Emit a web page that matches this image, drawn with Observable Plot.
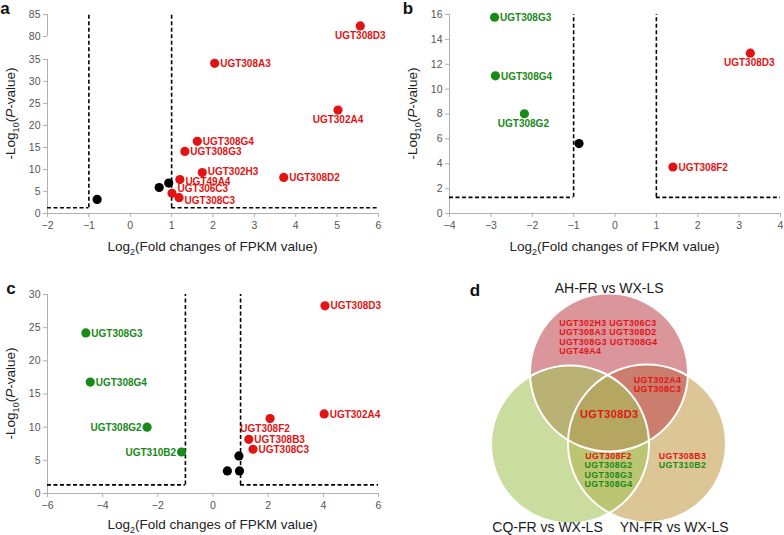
<!DOCTYPE html>
<html><head><meta charset="utf-8">
<script src="https://cdn.jsdelivr.net/npm/d3@7"></script>
<script src="https://cdn.jsdelivr.net/npm/@observablehq/plot@0.6"></script>
<style>
body{margin:0;background:#fff;}
#fig{position:relative;width:784px;height:535px;overflow:hidden;font-family:"Liberation Sans",Arial,sans-serif;background:#fff;}
#fig svg{position:absolute;background:none;}
</style></head><body><div id="fig"></div>
<script>
// ---------- Panel a: AH-FR vs WX-LS ----------
const aGenes  = ["UGT308D3","UGT308A3","UGT302A4","UGT308G4","UGT308G3","UGT302H3","UGT308D2","UGT49A4","UGT306C3","UGT308C3","","",""];
const aLog2FC = [5.56, 2.04, 5.02, 1.62, 1.32, 1.74, 3.71, 1.20, 1.01, 1.18, -0.80, 0.70, 0.93];
const aNegLogP= [82.4, 34.1, 23.5, 16.4, 14.1, 9.3, 8.2, 7.7, 4.6, 3.6, 3.2, 5.9, 6.9];
const aReg    = ["up","up","up","up","up","up","up","up","up","up","ns","ns","ns"];
const aXTicks = [-2,-1,0,1,2,3,4,5,6];
const aYTicks = [0,5,10,15,20,25,30,35,80,85];

// ---------- Panel b: CQ-FR vs WX-LS ----------
const bGenes  = ["UGT308G3","UGT308G4","UGT308G2","","UGT308D3","UGT308F2"];
const bLog2FC = [-2.91, -2.89, -2.19, -0.87, 3.27, 1.40];
const bNegLogP= [15.78, 11.07, 8.02, 5.62, 12.89, 3.74];
const bReg    = ["down","down","down","ns","up","up"];
const bXTicks = [-4,-3,-2,-1,0,1,2,3,4];
const bYTicks = [0,2,4,6,8,10,12,14,16];

// ---------- Panel c: YN-FR vs WX-LS ----------
const cGenes  = ["UGT308D3","UGT308G3","UGT308G4","UGT308G2","UGT310B2","UGT302A4","UGT308F2","UGT308B3","UGT308C3","","",""];
const cLog2FC = [4.06, -4.61, -4.45, -2.39, -1.14, 4.03, 2.07, 1.30, 1.45, 0.94, 0.52, 0.96];
const cNegLogP= [28.3, 24.2, 16.8, 10.0, 6.26, 12.0, 11.3, 8.17, 6.67, 5.66, 3.4, 3.4];
const cReg    = ["up","down","down","down","down","up","up","up","up","ns","ns","ns"];
const cXTicks = [-6,-4,-2,0,2,4,6];
const cYTicks = [0,5,10,15,20,25,30];

// thresholds
const fcCut = 1;
const pCut = 1.3;

// ---------- Panel d: Venn ----------
const vennSets = ["AH-FR vs WX-LS","CQ-FR vs WX-LS","YN-FR vs WX-LS"];
const vennAHonly = ["UGT302H3 UGT306C3","UGT308A3 UGT308D2","UGT308G3 UGT308G4","UGT49A4"];
const vennAH_YN = ["UGT302A4","UGT308C3"];
const vennAll = ["UGT308D3"];
const vennCQ_YN = ["UGT308F2","UGT308G2","UGT308G3","UGT308G4"];
const vennCQ_YNreg = ["up","down","down","down"];
const vennYNonly = ["UGT308B3","UGT310B2"];
const vennYNonlyReg = ["up","down"];

const RED="#e01414", GREEN="#178a17", AXIS="#b0b0b0", TICK="#555555";
const FONT='"Liberation Sans", Arial, sans-serif';
const fig = document.getElementById("fig");

function volcano(o){
  const rows = o.genes.map((g,i)=>({gene:g, fc:o.fc[i], p:o.yMap(o.p[i]), reg:o.reg[i]}));
  const [xmin,xmax] = o.xDomain, ymax = o.yDomain[1];
  const lab = rows.filter(d=>d.gene);
  const isBelow = d=>o.below.includes(d.gene);
  const isLeft = d=>o.left.includes(d.gene);
  const dyOf = d=>(o.dyMap && o.dyMap[d.gene]) || 0.5;
  const txt = {x:"fc", y:"p", text:"gene", fill:"reg", fontWeight:"bold", fontSize:10, fontFamily:FONT};
  const svg = Plot.plot({
    width:o.width, height:o.height,
    marginTop:o.mt, marginBottom:o.mb, marginLeft:o.ml, marginRight:o.mr,
    style:{fontSize:"10.5px", fontFamily:FONT, background:"none", overflow:"visible"},
    x:{domain:o.xDomain, axis:null},
    y:{domain:o.yDomain, axis:null},
    color:{domain:["up","down","ns"], range:[RED,GREEN,"#000"]},
    marks:[
      Plot.ruleY([0], {x1:()=>xmin, x2:()=>xmax, stroke:AXIS, strokeWidth:1}),
      Plot.ruleX(o.ySegs, {x:()=>xmin, y1:d=>d[0], y2:d=>d[1], stroke:AXIS, strokeWidth:1}),
      Plot.axisX({ticks:o.xTicks, tickSize:4, tickPadding:4, stroke:AXIS, fill:TICK, label:null}),
      Plot.axisY({ticks:o.yTicks.map(o.yMap), tickFormat:o.yFmt, tickSize:4, tickPadding:3, stroke:AXIS, fill:TICK, label:null}),
      Plot.ruleX([-fcCut, fcCut], {y1:()=>pCut, y2:()=>ymax, stroke:"#000", strokeWidth:1.6, strokeDasharray:"4,2.5"}),
      Plot.ruleY([[xmin,-fcCut],[fcCut,xmax]], {y:()=>pCut, x1:d=>d[0], x2:d=>d[1], stroke:"#000", strokeWidth:1.6, strokeDasharray:"4,2.5"}),
      Plot.dot(rows, {x:"fc", y:"p", r:4.6, fill:"reg", stroke:null}),
      ...lab.filter(d=>!isBelow(d)&&!isLeft(d)).map(d=>Plot.text([d], {...txt, dx:5.5, dy:dyOf(d), textAnchor:"start"})),
      Plot.text(lab.filter(isLeft), {...txt, dx:-5.5, dy:0.5, textAnchor:"end"}),
      Plot.text(lab.filter(isBelow), {...txt, dx:o.belowDx||0, dy:10, textAnchor:"middle"})
    ]
  });
  svg.style.left = o.left0+"px"; svg.style.top = o.top0+"px";
  fig.appendChild(svg);
  const s = d3.select(svg);
  const cx = o.ml + (o.width-o.ml-o.mr)/2;
  const xt = s.append("text").attr("x",cx).attr("y",o.xTitleY).attr("text-anchor","middle")
    .attr("font-size",13.5).attr("fill","#222").attr("font-family",FONT);
  xt.append("tspan").text("Log");
  xt.append("tspan").attr("dy",3.5).attr("font-size",9).text("2");
  xt.append("tspan").attr("dy",-3.5).text("(Fold changes of FPKM value)");
  const cy = o.mt + (o.height-o.mt-o.mb)/2;
  const yt = s.append("text").attr("transform",`translate(${o.yTitleX},${cy}) rotate(-90)`).attr("text-anchor","middle")
    .attr("font-size",13.5).attr("fill","#222").attr("font-family",FONT);
  yt.append("tspan").text("-Log");
  yt.append("tspan").attr("dy",3.5).attr("font-size",9).text("10");
  yt.append("tspan").attr("dy",-3.5).text("(");
  yt.append("tspan").attr("font-style","italic").text("P");
  yt.append("tspan").text("-value)");
  s.append("text").attr("x",o.letter[0]).attr("y",o.letter[1]).attr("font-size",17).attr("font-weight","bold")
    .attr("fill","#111").attr("font-family",FONT).text(o.letterText);
}

// panel a with broken y axis (80-85 shown above 35)
const aShift = 39.8;
const aMap = v => v>=80 ? v-aShift : v;
volcano({genes:aGenes, fc:aLog2FC, p:aNegLogP, reg:aReg, xDomain:[-2,6], xTicks:aXTicks, yDomain:[0,85-aShift],
  yTicks:aYTicks, yMap:aMap, yFmt:d=>d>=40?Math.round(d+aShift):d, ySegs:[[0,35],[80-aShift,85-aShift]],
  width:392, height:270, mt:14, mb:57, ml:47, mr:14, left0:0, top0:0,
  below:["UGT308D3","UGT302A4"], left:[], dyMap:{"UGT306C3":-4.5,"UGT308C3":3,"UGT49A4":2,"UGT302H3":-0.5},
  xTitleY:251, yTitleX:15, letter:[5,14], letterText:"a"});

volcano({genes:bGenes, fc:bLog2FC, p:bNegLogP, reg:bReg, xDomain:[-4,4], xTicks:bXTicks, yDomain:[0,16],
  yTicks:bYTicks, yMap:d=>d, yFmt:d=>d, ySegs:[[0,16]],
  width:392, height:270, mt:14, mb:57, ml:57, mr:4, left0:392, top0:0,
  below:["UGT308D3","UGT308G2"], belowDx:-1, left:[], xTitleY:251, yTitleX:25, letter:[16,14], letterText:"b"});

volcano({genes:cGenes, fc:cLog2FC, p:cNegLogP, reg:cReg, xDomain:[-6,6], xTicks:cXTicks, yDomain:[0,30],
  yTicks:cYTicks, yMap:d=>d, yFmt:d=>d, ySegs:[[0,30]],
  width:392, height:265, mt:24, mb:42, ml:47, mr:14, left0:0, top0:270,
  below:["UGT308F2"], belowDx:-5, left:["UGT308G2","UGT310B2"], xTitleY:259, yTitleX:15, letter:[11,24], letterText:"c"});

// ---------- Venn ----------
(function(){
  const C = [216.5, 150], R = 79;
  const offs = {"AH-FR vs WX-LS":[0,-48], "CQ-FR vs WX-LS":[-39,24], "YN-FR vs WX-LS":[38,23]};
  const fills = {"AH-FR vs WX-LS":"#c04a53", "CQ-FR vs WX-LS":"#a3c55a", "YN-FR vs WX-LS":"#c59d49"};
  const circles = vennSets.map(s=>({set:s, x:C[0]+offs[s][0], y:C[1]+offs[s][1]}));
  const order = ["YN-FR vs WX-LS","AH-FR vs WX-LS","CQ-FR vs WX-LS"].map(s=>circles.find(c=>c.set===s));
  const lines = (arr, x, y0, step, regs) => arr.map((t,i)=>({t, x, y:y0+i*step, reg:regs?regs[i]:"up"}));
  const top = lines(vennAHonly, 166.7, 52.7, 9.3, null);
  const mid = [
    ...lines(vennAH_YN, 265, 109.5, 9.1, null),
    ...lines(vennCQ_YN, 216, 185.7, 9.4, vennCQ_YNreg),
    ...lines(vennYNonly, 290, 185.7, 9.4, vennYNonlyReg)
  ];
  const titlePos = {"AH-FR vs WX-LS":[216.7,18.5], "CQ-FR vs WX-LS":[155,257], "YN-FR vs WX-LS":[281.7,257]};
  const titles = vennSets.map(s=>({s, x:titlePos[s][0], y:titlePos[s][1]}));
  const svg = Plot.plot({
    width:392, height:265, margin:0,
    style:{fontFamily:FONT, background:"none"},
    x:{domain:[0,392], range:[0,392], axis:null},
    y:{domain:[0,265], range:[0,265], axis:null},
    r:{type:"identity"},
    color:{domain:["up","down"], range:[RED,GREEN]},
    marks:[
      Plot.dot(order, {x:"x", y:"y", r:()=>R, fill:d=>fills[d.set], fillOpacity:0.58, stroke:null}),
      Plot.dot(order, {x:"x", y:"y", r:()=>R, fill:"none", stroke:"#fff", strokeWidth:2}),
      Plot.text(top, {x:"x", y:"y", text:"t", fill:"reg", textAnchor:"start", fontWeight:"bold", fontSize:8.8}),
      Plot.text(mid, {x:"x", y:"y", text:"t", fill:"reg", textAnchor:"middle", fontWeight:"bold", fontSize:8.8}),
      Plot.text(vennAll, {x:()=>216.7, y:()=>143.5, text:d=>d, fill:()=>"up", fontWeight:"bold", fontSize:11}),
      Plot.text(titles, {x:"x", y:"y", text:"s", fill:"#1a1a1a", fontSize:14}),
      Plot.text(["d"], {x:()=>82.5, y:()=>20, text:d=>d, fill:"#111", fontSize:17, fontWeight:700})
    ]
  });
  d3.select(svg).selectAll("g[font-weight='bold'] text").style("letter-spacing","0.35px");
  svg.style.left="392px"; svg.style.top="270px";
  fig.appendChild(svg);
})();
</script></body></html>
